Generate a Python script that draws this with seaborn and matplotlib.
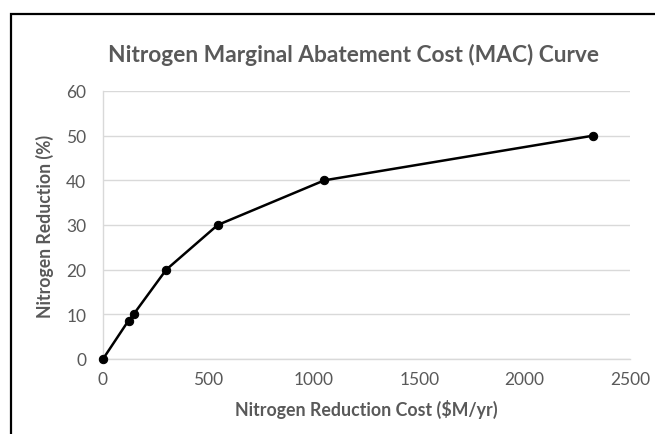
import matplotlib
matplotlib.use("Agg")
import matplotlib.pyplot as plt
import seaborn as sns
import pandas as pd
from matplotlib.ticker import MultipleLocator
from matplotlib.patches import Rectangle

# Data
cost = [0, 121, 145, 300, 544, 1050, 2325]
reduction = [0, 8.6, 10, 20, 30, 40, 50]
title = "Nitrogen Marginal Abatement Cost (MAC) Curve"
xlabel = "Nitrogen Reduction Cost ($M/yr)"
ylabel = "Nitrogen Reduction (%)"

df = pd.DataFrame({"cost": cost, "reduction": reduction})

sns.set_style("white")
plt.rcParams["font.family"] = ["Lato", "DejaVu Sans"]

gray = "#595959"
light = "#D9D9D9"

fig = plt.figure(figsize=(6.55, 4.35), dpi=100)
ax = fig.add_axes([103/655, 1-360/435, (630-103)/655, (360-92)/435])

sns.lineplot(data=df, x="cost", y="reduction", ax=ax, color="black",
             linewidth=1.8, marker="o", markersize=6, markeredgecolor="black",
             markerfacecolor="black", zorder=3, clip_on=False)

ax.set_xlim(0, 2500)
ax.set_ylim(0, 60)
ax.xaxis.set_major_locator(MultipleLocator(500))
ax.xaxis.set_minor_locator(MultipleLocator(100))
ax.yaxis.set_major_locator(MultipleLocator(10))
ax.yaxis.set_minor_locator(MultipleLocator(2))

ax.grid(True, axis="y", which="major", color=light, linewidth=1, zorder=0)
ax.set_axisbelow(True)

for s in ["top", "right"]:
    ax.spines[s].set_visible(False)
for s in ["left", "bottom"]:
    ax.spines[s].set_color(light)
    ax.spines[s].set_linewidth(1)

ax.tick_params(axis="x", which="major", direction="in", length=6, color=light,
               width=1, labelsize=12.5, labelcolor=gray, pad=8.5)
ax.tick_params(axis="x", which="minor", direction="out", length=5, color=light, width=1)
ax.tick_params(axis="y", which="major", direction="out", length=5, color=light,
               width=1, labelsize=12.5, labelcolor=gray, pad=7)
ax.tick_params(axis="y", which="minor", direction="out", length=5, color=light, width=1)

ax.set_xlabel(xlabel, fontsize=12.8, fontweight="bold", color=gray, labelpad=9)
ax.set_ylabel(ylabel, fontsize=12.7, fontweight="bold", color=gray, labelpad=9)

fig.text(354/655, 1 - 55/435, title, ha="center", va="center",
         fontsize=16.4, fontweight="bold", color=gray)

# outer chart border (cropped at right and bottom)
fig.patches.append(Rectangle((11/655, -0.1), 1.2, 1 - 15/435 + 0.1,
                             transform=fig.transFigure, fill=False,
                             edgecolor="black", linewidth=1.6))

fig.savefig("out.png", dpi=100, facecolor="white")
